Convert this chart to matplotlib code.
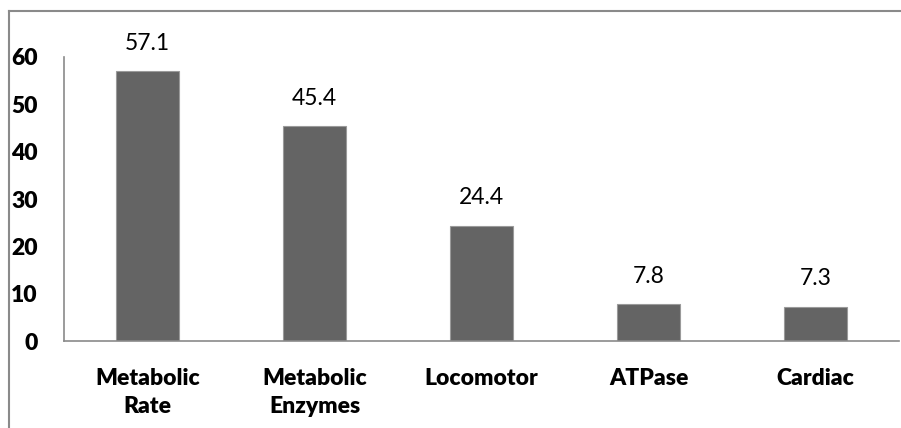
import matplotlib

matplotlib.use("Agg")

import matplotlib.pyplot as plt
from matplotlib.lines import Line2D

categories = ["Metabolic\nRate", "Metabolic\nEnzymes", "Locomotor", "ATPase", "Cardiac"]
values = [57.1, 45.4, 24.4, 7.8, 7.3]
y_ticks = [0, 10, 20, 30, 40, 50, 60]

plt.rcParams["font.family"] = ["Lato", "DejaVu Sans"]

fig = plt.figure(figsize=(9.01, 4.28), dpi=100)
ax = fig.add_axes([0.071, 0.203, 0.927, 0.664])

positions = list(range(len(values)))
bars = ax.bar(positions, values, width=0.38, color="#646464",
              edgecolor="#9a9a9a", linewidth=0.8)
for x, v in zip(positions, values):
    ax.text(x, v + 3.6, f"{v:.1f}", ha="center", va="bottom", fontsize=16.5)

ax.set_xlim(-0.5, len(values) - 0.5)
ax.set_ylim(0, 60)
ax.set_yticks(y_ticks)
ax.set_xticks(positions)
ax.set_xticklabels(categories, fontsize=16.5, fontweight="heavy", linespacing=1.42)
ax.set_yticklabels([str(t) for t in y_ticks], fontsize=16.5, fontweight="heavy")
ax.tick_params(axis="both", length=0)
ax.tick_params(axis="x", pad=19)
ax.tick_params(axis="y", pad=19)

for side in ("top", "right"):
    ax.spines[side].set_visible(False)
for side in ("left", "bottom"):
    ax.spines[side].set_color("#8a8a8a")
    ax.spines[side].set_linewidth(1.2)
ax.spines["left"].set_clip_on(False)

# outer chart frame (clipped on right and bottom)
fx = 8.5 / 901
fy = 1 - 11 / 428
fig.add_artist(Line2D([fx, 1.0], [fy, fy], color="#8a8a8a", linewidth=1.5))
fig.add_artist(Line2D([fx, fx], [0, fy], color="#8a8a8a", linewidth=1.5))

fig.savefig("out.png", dpi=100)
